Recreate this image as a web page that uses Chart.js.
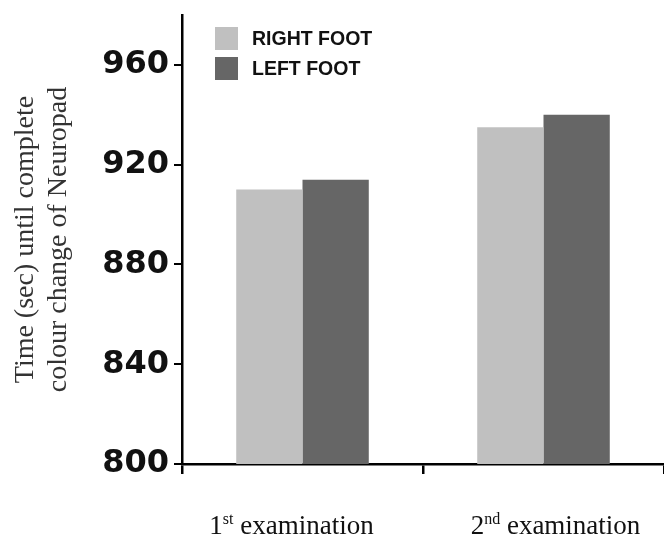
<!DOCTYPE html>
<html>
<head>
<meta charset="utf-8">
<script src="https://cdn.jsdelivr.net/npm/chart.js@4.4.0/dist/chart.umd.min.js"></script>
<style>
  html, body { margin: 0; padding: 0; background: #fff; }
  #wrap { width: 664px; height: 539px; }
</style>
</head>
<body>
<div id="wrap"><canvas id="myChart" width="664" height="539"></canvas></div>
<script>
//------------------------------------------------------//
// data
let examNumbers = ["1", "2"]
let examSuffixes = ["st", "nd"]
let examWord = " examination"
let rightFoot = [910, 935]
let leftFoot = [914, 940]
let seriesNames = ["RIGHT FOOT", "LEFT FOOT"]
let yTicks = [800, 840, 880, 920, 960]
let yTitle = ["Time (sec) until complete", "colour change of Neuropad"]

const lightGrey = "rgb(192, 192, 192)"
const darkGrey = "rgb(102, 102, 102)"
// the x labels in the original sit a little off the category centres
const labelShift = [-11, 12]

//------------------------------------------------------//
// legend drawn inside the plot area, top left
const insideLegend = {
    id: "insideLegend",
    afterDraw: (chart) => {
        const ctx = chart.ctx
        const area = chart.chartArea
        ctx.save()
        chart.data.datasets.forEach((ds, i) => {
            let x = area.left + 33
            let y = area.top + 12 + i * 30
            ctx.fillStyle = ds.backgroundColor
            ctx.fillRect(x, y, 23, 23)
            ctx.fillStyle = "#111"
            ctx.font = "bold 19.5px 'Liberation Sans', Arial, sans-serif"
            ctx.textBaseline = "middle"
            ctx.textAlign = "left"
            ctx.fillText(ds.label, x + 37, y + 13)
        })
        ctx.restore()
    }
}

// x labels with superscript ordinals
const examLabels = {
    id: "examLabels",
    afterDraw: (chart) => {
        const ctx = chart.ctx
        const xs = chart.scales.x
        const big = "27px 'Liberation Serif', 'Times New Roman', serif"
        const small = "16px 'Liberation Serif', 'Times New Roman', serif"
        ctx.save()
        ctx.fillStyle = "#111"
        ctx.textBaseline = "alphabetic"
        ctx.textAlign = "left"
        for (let i in examNumbers) {
            ctx.font = big
            let w1 = ctx.measureText(examNumbers[i]).width
            let w3 = ctx.measureText(examWord).width
            ctx.font = small
            let w2 = ctx.measureText(examSuffixes[i]).width
            let total = w1 + w2 + w3
            let x = xs.getPixelForValue(Number(i)) - total / 2 + labelShift[i]
            let base = 534
            ctx.font = big
            ctx.fillText(examNumbers[i], x, base)
            ctx.font = small
            ctx.fillText(examSuffixes[i], x + w1, base - 10)
            ctx.font = big
            ctx.fillText(examWord, x + w1 + w2, base)
        }
        ctx.restore()
    }
}

//------------------------------------------------------//
const createCanvas = () => {
    var ctx = document.getElementById('myChart').getContext('2d');
    var chart = new Chart(ctx, {
        type: 'bar',
        data: {
            labels: examNumbers.map((n, i) => n + examSuffixes[i] + examWord),
            datasets: [{
                label: seriesNames[0],
                backgroundColor: lightGrey,
                data: rightFoot
            }, {
                label: seriesNames[1],
                backgroundColor: darkGrey,
                data: leftFoot
            }]
        },
        options: {
            responsive: false,
            animation: false,
            layout: {
                padding: { left: 0, right: 0, top: 15, bottom: 0 }
            },
            datasets: {
                bar: { categoryPercentage: 0.55, barPercentage: 1.0 }
            },
            plugins: {
                legend: { display: false },
                tooltip: { enabled: false }
            },
            scales: {
                x: {
                    grid: {
                        drawOnChartArea: false,
                        color: "#000",
                        lineWidth: 2.5,
                        tickLength: 10,
                        offset: true
                    },
                    border: { color: "#000", width: 2.5 },
                    ticks: { display: false },
                    afterFit: (scale) => { scale.height = 75 }
                },
                y: {
                    min: 800,
                    max: 980,
                    grid: {
                        drawOnChartArea: false,
                        color: "#000",
                        lineWidth: 2,
                        tickLength: 8
                    },
                    border: { color: "#000", width: 2.5 },
                    afterBuildTicks: (scale) => {
                        scale.ticks = yTicks.map(v => ({ value: v }))
                    },
                    ticks: {
                        color: "#111",
                        padding: 5,
                        font: { family: "'DejaVu Sans', sans-serif", size: 32, weight: "bold" }
                    },
                    title: {
                        display: true,
                        text: yTitle,
                        color: "#333",
                        padding: { top: 10, bottom: 0 },
                        font: { family: "'Liberation Serif', 'Times New Roman', serif", size: 28, lineHeight: 1.15 }
                    },
                    afterFit: (scale) => {
                        scale.width = 182
                        scale.paddingTop = 0
                        scale.paddingBottom = 0
                    }
                }
            }
        },
        plugins: [insideLegend, examLabels]
    });
}

createCanvas()
</script>
</body>
</html>
